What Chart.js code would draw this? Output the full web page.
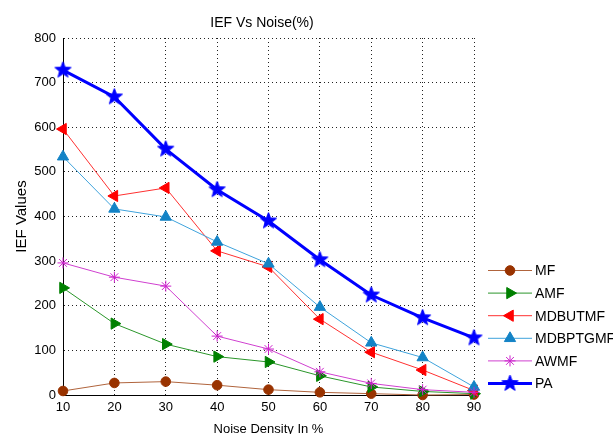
<!DOCTYPE html>
<html><head><meta charset="utf-8">
<script src="https://cdn.jsdelivr.net/npm/chart.js@4.4.1/dist/chart.umd.min.js"></script>
<style>html,body{margin:0;padding:0;background:#fff;}#wrap{width:613px;height:434px;position:relative;}</style>
</head><body><div id="wrap"><canvas id="c" width="613" height="434"></canvas></div>
<script>
// ---- data ----
const noiseDensity = [10, 20, 30, 40, 50, 60, 70, 80, 90];
const seriesNames = ['MF', 'AMF', 'MDBUTMF', 'MDBPTGMF', 'AWMF', 'PA'];
const mfValues = [9, 27, 30, 22, 12, 6, 3, 0, 1];
const amfValues = [240, 160, 114, 86, 74, 43, 18, 8, 3];
const mdbutmfValues = [596, 446, 464, 323, 287, 170, 96, 56, 10];
const mdbptgmfValues = [534, 417, 399, 343, 294, 197, 117, 84, 18];
const awmfValues = [296, 264, 244, 132, 103, 52, 26, 12, 6];
const paValues = [728, 668, 551, 460, 390, 303, 224, 173, 128];
const yTickValues = [0, 100, 200, 300, 400, 500, 600, 700, 800];
const chartTitle = 'IEF Vs Noise(%)';
const xAxisTitle = 'Noise Density In %';
const yAxisTitle = 'IEF Values';

// pentagram marker
function makePentagram(R, color) {
  const size = Math.ceil(R * 2 + 4);
  const cv = document.createElement('canvas');
  cv.width = size; cv.height = size;
  const g = cv.getContext('2d');
  const cx = size / 2, cy = size / 2, r = R * 0.42;
  g.beginPath();
  for (let i = 0; i < 10; i++) {
    const ang = -Math.PI / 2 + i * Math.PI / 5;
    const rr = i % 2 === 0 ? R : r;
    const px = cx + Math.cos(ang) * rr, py = cy + Math.sin(ang) * rr;
    if (i === 0) g.moveTo(px, py); else g.lineTo(px, py);
  }
  g.closePath();
  g.fillStyle = color; g.fill();
  g.strokeStyle = color; g.lineWidth = 1; g.stroke();
  return cv;
}
const starImg = makePentagram(8.5, '#0000ff');

const styles = [
  {line: '#b0643c', pt: '#993300', style: 'circle', r: 4.8, rot: 0, lw: 1, order: 5},
  {line: '#2a962a', pt: '#008000', style: 'triangle', r: 6.5, rot: 90, lw: 1, order: 4},
  {line: '#ff3030', pt: '#ff0000', style: 'triangle', r: 6.5, rot: -90, lw: 1, order: 3},
  {line: '#3fa3dc', pt: '#1383c6', style: 'triangle', r: 6.5, rot: 0, lw: 1, order: 2},
  {line: '#d040d0', pt: '#cc22cc', style: 'star', r: 5.5, rot: 0, lw: 1, order: 1},
  {line: '#0000ff', pt: '#0000ff', style: starImg, r: 8, rot: 0, lw: 3, order: 0}
];
const allValues = [mfValues, amfValues, mdbutmfValues, mdbptgmfValues, awmfValues, paValues];

const datasets = seriesNames.map((name, i) => {
  const s = styles[i];
  return {
    label: name,
    data: noiseDensity.map((x, j) => ({x: x, y: allValues[i][j]})),
    borderColor: s.line,
    borderWidth: s.lw,
    backgroundColor: s.pt,
    pointStyle: s.style,
    pointRadius: s.r,
    pointRotation: s.rot,
    pointBackgroundColor: s.pt,
    pointBorderColor: s.pt,
    pointBorderWidth: 1,
    tension: 0,
    fill: false,
    clip: false,
    order: s.order
  };
});

const FONT = '"Liberation Sans", Arial, Helvetica, sans-serif';

const customPlugin = {
  id: 'custom',
  afterDraw(chart) {
    const ctx = chart.ctx;
    ctx.save();
    ctx.fillStyle = '#000';
    ctx.font = '14px ' + FONT;
    ctx.textAlign = 'center';
    ctx.textBaseline = 'middle';
    ctx.fillText(chartTitle, 262, 23);
    // legend
    ctx.font = '14px ' + FONT;
    ctx.textAlign = 'left';
    seriesNames.forEach((name, i) => {
      const s = styles[i];
      const y = 270.5 + i * 22.6;
      ctx.strokeStyle = s.line;
      ctx.lineWidth = s.lw;
      ctx.beginPath(); ctx.moveTo(488, y); ctx.lineTo(532, y); ctx.stroke();
      ctx.fillStyle = s.pt; ctx.strokeStyle = s.pt; ctx.lineWidth = 1;
      Chart.helpers.drawPoint(ctx, {pointStyle: s.style, radius: s.r, rotation: s.rot, borderWidth: 1}, 510, y);
      ctx.fillStyle = '#000';
      ctx.fillText(name, 535, y + 1);
    });
    ctx.restore();
  }
};

new Chart(document.getElementById('c'), {
  type: 'line',
  data: {datasets: datasets},
  plugins: [customPlugin],
  options: {
    responsive: false,
    devicePixelRatio: 1,
    animation: false,
    events: [],
    layout: {padding: {top: 38, right: 139, left: 0, bottom: 0}},
    plugins: {legend: {display: false}, tooltip: {enabled: false}, title: {display: false}},
    scales: {
      x: {
        type: 'linear', min: 10, max: 90,
        afterFit: s => { s.height = 39; },
        afterBuildTicks: s => { s.ticks = noiseDensity.map(v => ({value: v})); },
        ticks: {font: {family: FONT, size: 13}, color: '#000', padding: 5, maxRotation: 0},
        grid: {color: '#222', lineWidth: 1, drawTicks: false},
        border: {display: true, color: '#000', width: 1, dash: [1, 3]},
        title: {display: true, text: xAxisTitle, color: '#000', font: {family: FONT, size: 13, lineHeight: 1}, padding: {top: 0, bottom: -2}}
      },
      y: {
        type: 'linear', min: 0, max: 800,
        afterFit: s => { s.width = 63; },
        afterBuildTicks: s => { s.ticks = yTickValues.map(v => ({value: v})); },
        ticks: {font: {family: FONT, size: 13}, color: '#000', padding: 7},
        grid: {color: '#222', lineWidth: 1, drawTicks: false},
        border: {display: true, color: '#000', width: 1, dash: [1, 3]},
        title: {display: true, text: yAxisTitle, color: '#000', font: {family: FONT, size: 15, lineHeight: 1}, padding: {top: 14, bottom: 0}}
      }
    }
  }
});
</script></body></html>
